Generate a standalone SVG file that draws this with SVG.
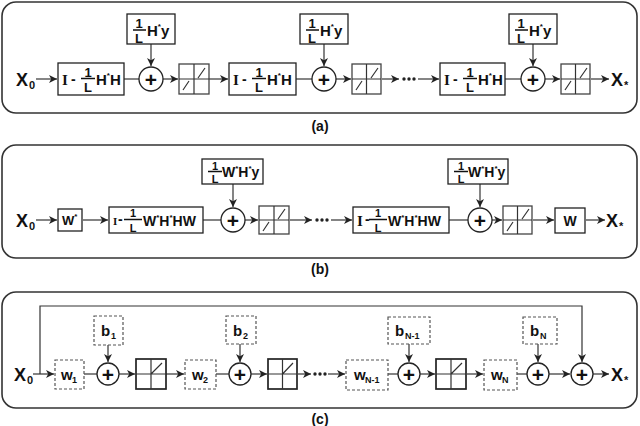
<svg xmlns="http://www.w3.org/2000/svg" width="640" height="426" viewBox="0 0 640 426">
<defs>
<marker id="ah" markerUnits="userSpaceOnUse" markerWidth="9" markerHeight="9" refX="8" refY="4" orient="auto">
<path d="M0,0 L8,4 L0,8 L2.2,4 z" fill="#222"/>
</marker>
<style>
.frame{fill:#fff;stroke:#333;stroke-width:1.6}
.box{fill:#fff;stroke:#222;stroke-width:1.3}
.thr{fill:#fff;stroke:#444;stroke-width:1.3}
.relu{fill:#fff;stroke:#222;stroke-width:1.7}
.dash{fill:#fff;stroke:#555;stroke-width:1.2;stroke-dasharray:3,2}
.sym{stroke:#333;stroke-width:1.2;fill:none}
.ln{stroke:#333;stroke-width:1.2;fill:none}
.ar{stroke:#333;stroke-width:1.2;fill:none;marker-end:url(#ah)}
.bar{stroke:#111;stroke-width:1.5}
.sum{fill:#fff;stroke:#222;stroke-width:1.3}
text{font-family:"Liberation Sans",Arial,sans-serif;font-weight:bold;fill:#111}
.ser{font-family:"Liberation Serif","Times New Roman",serif}
.big{font-size:18px}
.sub{font-size:11px}
.m15{font-size:15px}
.m14{font-size:14px}
.m13{font-size:13px}
.f14{font-size:14px}
.f13{font-size:13px}
.f12{font-size:12px}
.f11{font-size:11px}
.plus{font-size:21px}
.sup{font-size:8px}
.lab{font-size:14px}
.dot{fill:#222}
</style>
</defs>

<!-- panel frames -->
<rect class="frame" x="2" y="2" width="635" height="111" rx="14"/>
<rect class="frame" x="2" y="145" width="635" height="113" rx="14"/>
<rect class="frame" x="2" y="292" width="635" height="116" rx="14"/>
<text class="lab" x="320" y="131" text-anchor="middle">(a)</text>
<text class="lab" x="320" y="274" text-anchor="middle">(b)</text>
<text class="lab" x="320" y="424" text-anchor="middle">(c)</text>

<!-- ===== connectors ===== -->
<g id="connectors">
<!-- (a) -->
<line class="ar" x1="36" y1="79" x2="57" y2="79"/>
<line class="ln" x1="124" y1="79" x2="139" y2="79"/>
<line class="ar" x1="151" y1="44" x2="151" y2="66"/>
<line class="ar" x1="163" y1="79" x2="178" y2="79"/>
<line class="ar" x1="209" y1="79" x2="228" y2="79"/>
<line class="ln" x1="296" y1="79" x2="312" y2="79"/>
<line class="ar" x1="324" y1="44" x2="324" y2="66"/>
<line class="ar" x1="336" y1="79" x2="351" y2="79"/>
<line class="ar" x1="382" y1="79" x2="399" y2="79"/>
<line class="ar" x1="418" y1="79" x2="439" y2="79"/>
<line class="ln" x1="505" y1="79" x2="521" y2="79"/>
<line class="ar" x1="533" y1="44" x2="533" y2="66"/>
<line class="ar" x1="545" y1="79" x2="560" y2="79"/>
<line class="ar" x1="591" y1="79" x2="609" y2="79"/>
<!-- (b) -->
<line class="ar" x1="36" y1="220" x2="57" y2="220"/>
<line class="ar" x1="83" y1="220" x2="108" y2="220"/>
<line class="ln" x1="203" y1="220" x2="221" y2="220"/>
<line class="ar" x1="233" y1="184" x2="233" y2="207"/>
<line class="ar" x1="245" y1="220" x2="258" y2="220"/>
<line class="ar" x1="290" y1="220" x2="312" y2="220"/>
<line class="ar" x1="331" y1="220" x2="352" y2="220"/>
<line class="ln" x1="449" y1="220" x2="468" y2="220"/>
<line class="ar" x1="480" y1="184" x2="480" y2="207"/>
<line class="ar" x1="492" y1="220" x2="502" y2="220"/>
<line class="ar" x1="533" y1="220" x2="554" y2="220"/>
<line class="ar" x1="586" y1="220" x2="605" y2="220"/>
<!-- (c) -->
<line class="ar" x1="33" y1="374" x2="54" y2="374"/>
<polyline class="ar" points="40,374 40,306 582,306 582,362"/>
<line class="ln" x1="84" y1="374" x2="97" y2="374"/>
<line class="ar" x1="108" y1="345" x2="108" y2="362"/>
<line class="ar" x1="119" y1="374" x2="135" y2="374"/>
<line class="ar" x1="166" y1="374" x2="184" y2="374"/>
<line class="ln" x1="216" y1="374" x2="229" y2="374"/>
<line class="ar" x1="240" y1="344" x2="240" y2="362"/>
<line class="ar" x1="251" y1="374" x2="267" y2="374"/>
<line class="ar" x1="298" y1="374" x2="311" y2="374"/>
<line class="ar" x1="328" y1="374" x2="345" y2="374"/>
<line class="ln" x1="388" y1="374" x2="398" y2="374"/>
<line class="ar" x1="409" y1="344" x2="409" y2="362"/>
<line class="ar" x1="420" y1="374" x2="435" y2="374"/>
<line class="ar" x1="467" y1="374" x2="483" y2="374"/>
<line class="ln" x1="517" y1="374" x2="527" y2="374"/>
<line class="ar" x1="538" y1="344" x2="538" y2="362"/>
<line class="ar" x1="549" y1="374" x2="570" y2="374"/>
<line class="ar" x1="593" y1="374" x2="609" y2="374"/>
</g>

<!-- ===== panel (a) nodes ===== -->
<g id="a-x0"><text class="big" x="16" y="86">X</text><text class="sub" x="29" y="89">0</text></g>
<g id="a-g1">
<rect class="box" x="58" y="63" width="66" height="32"/>
<text class="ser m15" x="62" y="85">I</text><text class="m14" x="71" y="84">-</text>
<text class="f13" x="88" y="76.5" text-anchor="middle">1</text><line class="bar" x1="81" y1="78.5" x2="95" y2="78.5"/><text class="f13" x="88" y="92" text-anchor="middle">L</text>
<text class="m15" x="96" y="85">H<tspan class="sup" dy="-7">*</tspan><tspan dy="7">H</tspan></text>
</g>
<g id="a-b1">
<rect class="box" x="127" y="14" width="48" height="30"/>
<text class="f13" x="139" y="28" text-anchor="middle">1</text><line class="bar" x1="133" y1="30" x2="146" y2="30"/><text class="f13" x="139" y="42.5" text-anchor="middle">L</text>
<text class="m15" x="147" y="36">H<tspan class="sup" dy="-7">*</tspan><tspan dy="7">y</tspan></text>
</g>
<g id="a-s1"><circle class="sum" cx="151" cy="79" r="12"/><text class="plus" x="151" y="86.5" text-anchor="middle">+</text></g>
<g id="a-t1"><rect class="thr" x="179" y="64" width="30" height="30"/><path class="sym" d="M179,79 H209 M194,64 V94 M183,90 L189,81 M198,78 L205,68"/></g>

<g id="a-g2">
<rect class="box" x="229" y="63" width="67" height="32"/>
<text class="ser m15" x="233" y="85">I</text><text class="m14" x="242" y="84">-</text>
<text class="f13" x="259" y="76.5" text-anchor="middle">1</text><line class="bar" x1="252" y1="78.5" x2="266" y2="78.5"/><text class="f13" x="259" y="92" text-anchor="middle">L</text>
<text class="m15" x="267" y="85">H<tspan class="sup" dy="-7">*</tspan><tspan dy="7">H</tspan></text>
</g>
<g id="a-b2">
<rect class="box" x="300" y="14" width="48" height="30"/>
<text class="f13" x="312" y="28" text-anchor="middle">1</text><line class="bar" x1="306" y1="30" x2="319" y2="30"/><text class="f13" x="312" y="42.5" text-anchor="middle">L</text>
<text class="m15" x="320" y="36">H<tspan class="sup" dy="-7">*</tspan><tspan dy="7">y</tspan></text>
</g>
<g id="a-s2"><circle class="sum" cx="324" cy="79" r="12"/><text class="plus" x="324" y="86.5" text-anchor="middle">+</text></g>
<g id="a-t2"><rect class="thr" x="352" y="64" width="29" height="30"/><path class="sym" d="M352,79 H381 M366.5,64 V94 M356,90 L362,81 M371,78 L378,68"/></g>
<g id="a-dots"><circle class="dot" cx="404" cy="79" r="1.7"/><circle class="dot" cx="409" cy="79" r="1.7"/><circle class="dot" cx="414" cy="79" r="1.7"/></g>

<g id="a-g3">
<rect class="box" x="440" y="63" width="65" height="32"/>
<text class="ser m15" x="444" y="85">I</text><text class="m14" x="453" y="84">-</text>
<text class="f13" x="470" y="76.5" text-anchor="middle">1</text><line class="bar" x1="463" y1="78.5" x2="477" y2="78.5"/><text class="f13" x="470" y="92" text-anchor="middle">L</text>
<text class="m15" x="478" y="85">H<tspan class="sup" dy="-7">*</tspan><tspan dy="7">H</tspan></text>
</g>
<g id="a-b3">
<rect class="box" x="509" y="14" width="48" height="30"/>
<text class="f13" x="521" y="28" text-anchor="middle">1</text><line class="bar" x1="515" y1="30" x2="528" y2="30"/><text class="f13" x="521" y="42.5" text-anchor="middle">L</text>
<text class="m15" x="529" y="36">H<tspan class="sup" dy="-7">*</tspan><tspan dy="7">y</tspan></text>
</g>
<g id="a-s3"><circle class="sum" cx="533" cy="79" r="12"/><text class="plus" x="533" y="86.5" text-anchor="middle">+</text></g>
<g id="a-t3"><rect class="thr" x="561" y="64" width="29" height="30"/><path class="sym" d="M561,79 H590 M575.5,64 V94 M565,90 L571,81 M580,78 L587,68"/></g>
<g id="a-out"><text class="big" x="611" y="86">X</text><text class="sub" x="624" y="89">*</text></g>

<!-- ===== panel (b) nodes ===== -->
<g id="b-x0"><text class="big" x="16" y="227">X</text><text class="sub" x="29" y="230">0</text></g>
<g id="b-wt"><rect class="box" x="58" y="209" width="24" height="22"/><text class="m13" x="62" y="225">W<tspan class="sup" dy="-6">*</tspan></text></g>
<g id="b-g1">
<rect class="box" x="109" y="207" width="94" height="26"/>
<text class="ser" font-size="11" x="113" y="225">I</text><text class="m14" x="118" y="224">-</text>
<text class="f11" x="133" y="217" text-anchor="middle">1</text><line class="bar" x1="124" y1="219.5" x2="142" y2="219.5"/><text class="f11" x="133" y="231.5" text-anchor="middle">L</text>
<text class="m14" x="143" y="225.5">W<tspan class="sup" dy="-6">*</tspan><tspan dy="6">H</tspan><tspan class="sup" dy="-6">*</tspan><tspan dy="6">HW</tspan></text>
</g>
<g id="b-b1">
<rect class="box" x="202" y="159" width="61" height="25"/>
<text class="f11" x="215" y="169.5" text-anchor="middle">1</text><line class="bar" x1="208" y1="171.5" x2="222" y2="171.5"/><text class="f11" x="215" y="183" text-anchor="middle">L</text>
<text class="m14" x="222" y="177">W<tspan class="sup" dy="-6">*</tspan><tspan dy="6">H</tspan><tspan class="sup" dy="-6">*</tspan><tspan dy="6">y</tspan></text>
</g>
<g id="b-s1"><circle class="sum" cx="233" cy="220" r="12"/><text class="plus" x="233" y="227.5" text-anchor="middle">+</text></g>
<g id="b-t1"><rect class="thr" x="259" y="206" width="30" height="28"/><path class="sym" d="M259,220 H289 M274,206 V234 M263,231 L269,222 M278,219 L285,209"/></g>
<g id="b-dots"><circle class="dot" cx="317" cy="220" r="1.7"/><circle class="dot" cx="322" cy="220" r="1.7"/><circle class="dot" cx="327" cy="220" r="1.7"/></g>
<g id="b-g2">
<rect class="box" x="353" y="207" width="96" height="26"/>
<text class="ser m15" x="357" y="226">I</text><text class="m14" x="365" y="224">-</text>
<text class="f11" x="378" y="217" text-anchor="middle">1</text><line class="bar" x1="369" y1="219.5" x2="387" y2="219.5"/><text class="f11" x="378" y="231.5" text-anchor="middle">L</text>
<text class="m14" x="388" y="225.5">W<tspan class="sup" dy="-6">*</tspan><tspan dy="6">H</tspan><tspan class="sup" dy="-6">*</tspan><tspan dy="6">HW</tspan></text>
</g>
<g id="b-b2">
<rect class="box" x="448" y="159" width="60" height="25"/>
<text class="f11" x="461" y="169.5" text-anchor="middle">1</text><line class="bar" x1="454" y1="171.5" x2="468" y2="171.5"/><text class="f11" x="461" y="183" text-anchor="middle">L</text>
<text class="m14" x="468" y="177">W<tspan class="sup" dy="-6">*</tspan><tspan dy="6">H</tspan><tspan class="sup" dy="-6">*</tspan><tspan dy="6">y</tspan></text>
</g>
<g id="b-s2"><circle class="sum" cx="480" cy="220" r="12"/><text class="plus" x="480" y="227.5" text-anchor="middle">+</text></g>
<g id="b-t2"><rect class="thr" x="503" y="206" width="29" height="28"/><path class="sym" d="M503,220 H532 M517.5,206 V234 M507,231 L513,222 M522,219 L529,209"/></g>
<g id="b-w"><rect class="box" x="555" y="208" width="30" height="25"/><text class="m14" x="570" y="226" text-anchor="middle">W</text></g>
<g id="b-out"><text class="big" x="606" y="227">X</text><text class="sub" x="619" y="230">*</text></g>

<!-- ===== panel (c) nodes ===== -->
<g id="c-x0"><text class="big" x="14" y="381">X</text><text class="sub" x="27" y="384">0</text></g>
<g id="c-w1"><rect class="dash" x="55" y="360" width="29" height="29"/><text class="m15" x="61" y="380">w</text><text font-size="9" x="72" y="383">1</text></g>
<g id="c-b1"><rect class="dash" x="94" y="316" width="29" height="29"/><text class="m15" x="101" y="336">b</text><text font-size="9" x="111" y="339">1</text></g>
<g id="c-s1"><circle class="sum" cx="108" cy="374" r="11"/><text class="plus" x="108" y="381.5" text-anchor="middle">+</text></g>
<g id="c-r1"><rect class="relu" x="136" y="359" width="30" height="30"/><path class="sym" d="M136,374 H166 M151,359 V389 M151,374 L162,363"/></g>
<g id="c-w2"><rect class="dash" x="185" y="360" width="31" height="29"/><text class="m15" x="192" y="380">w</text><text font-size="9" x="203" y="383">2</text></g>
<g id="c-b2"><rect class="dash" x="226" y="316" width="30" height="28"/><text class="m15" x="233" y="336">b</text><text font-size="9" x="243" y="339">2</text></g>
<g id="c-s2"><circle class="sum" cx="240" cy="374" r="11"/><text class="plus" x="240" y="381.5" text-anchor="middle">+</text></g>
<g id="c-r2"><rect class="relu" x="268" y="359" width="29" height="30"/><path class="sym" d="M268,374 H297 M282.5,359 V389 M282.5,374 L293,363"/></g>
<g id="c-dots"><circle class="dot" cx="315" cy="374" r="1.7"/><circle class="dot" cx="320" cy="374" r="1.7"/><circle class="dot" cx="325" cy="374" r="1.7"/></g>
<g id="c-w3"><rect class="dash" x="346" y="360" width="42" height="30"/><text class="m15" x="354" y="380">w</text><text font-size="9" x="365" y="383">N-1</text></g>
<g id="c-b3"><rect class="dash" x="388" y="317" width="42" height="27"/><text class="m15" x="395" y="336">b</text><text font-size="9" x="405" y="339">N-1</text></g>
<g id="c-s3"><circle class="sum" cx="409" cy="374" r="11"/><text class="plus" x="409" y="381.5" text-anchor="middle">+</text></g>
<g id="c-r3"><rect class="relu" x="436" y="359" width="30" height="30"/><path class="sym" d="M436,374 H466 M451,359 V389 M451,374 L462,363"/></g>
<g id="c-w4"><rect class="dash" x="484" y="360" width="33" height="30"/><text class="m15" x="491" y="380">w</text><text font-size="9" x="502" y="383">N</text></g>
<g id="c-b4"><rect class="dash" x="523" y="317" width="34" height="27"/><text class="m15" x="530" y="336">b</text><text font-size="9" x="540" y="339">N</text></g>
<g id="c-s4"><circle class="sum" cx="538" cy="374" r="11"/><text class="plus" x="538" y="381.5" text-anchor="middle">+</text></g>
<g id="c-s5"><circle class="sum" cx="582" cy="374" r="11"/><text class="plus" x="582" y="381.5" text-anchor="middle">+</text></g>
<g id="c-out"><text class="big" x="611" y="381">X</text><text class="sub" x="624" y="384">*</text></g>
</svg>
